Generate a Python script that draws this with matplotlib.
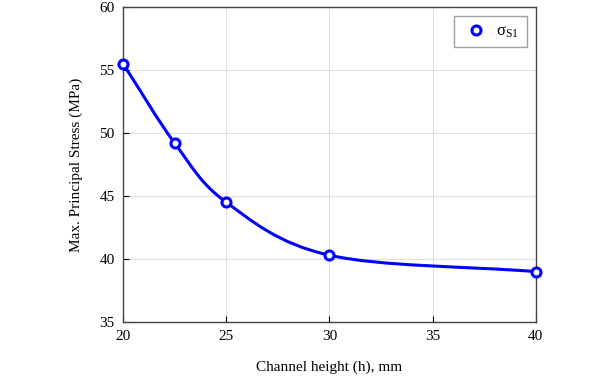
import numpy as np
import matplotlib
matplotlib.use("Agg")
import matplotlib.pyplot as plt
from matplotlib.path import Path
from matplotlib.patches import PathPatch
from matplotlib.lines import Line2D

plt.rcParams['font.family'] = 'Liberation Serif'
plt.rcParams['mathtext.fontset'] = 'custom'
plt.rcParams['mathtext.rm'] = 'Liberation Serif'
plt.rcParams['mathtext.it'] = 'Liberation Serif:italic'

# data
heights = [20, 22.5, 25, 30, 40]
stress = [55.5, 49.2, 44.5, 40.3, 39.0]


def smooth_path(xs, ys):
    # Catmull-Rom style bezier through the points
    xs = np.asarray(xs, float)
    ys = np.asarray(ys, float)
    n = len(xs)
    verts = [(xs[0], ys[0])]
    codes = [Path.MOVETO]
    # tangents
    mx = np.zeros(n)
    my = np.zeros(n)
    for i in range(n):
        if i == 0:
            j, k = 0, 1
        elif i == n - 1:
            j, k = n - 2, n - 1
        else:
            j, k = i - 1, i + 1
        mx[i] = (xs[k] - xs[j]) / (k - j)
        my[i] = (ys[k] - ys[j]) / (k - j)
    for i in range(n - 1):
        h = 1.0 / 3.0
        c1 = (xs[i] + h * mx[i], ys[i] + h * my[i])
        c2 = (xs[i + 1] - h * mx[i + 1], ys[i + 1] - h * my[i + 1])
        verts += [c1, c2, (xs[i + 1], ys[i + 1])]
        codes += [Path.CURVE4] * 3
    return Path(verts, codes)


fig = plt.figure(figsize=(6, 3.82), dpi=100)
ax = fig.add_axes([0.205, 0.157, 0.688, 0.825])

ax.add_patch(PathPatch(smooth_path(heights, stress), facecolor='none',
                       edgecolor='#0000ff', lw=2.2, zorder=3))
ax.plot(heights, stress, linestyle='none', marker='o', markersize=6.5,
        markerfacecolor='white', markeredgecolor='#0000ff', markeredgewidth=2.2,
        zorder=4, clip_on=False)

ax.set_xlim(20, 40)
ax.set_ylim(35, 60)
ax.set_xticks([20, 25, 30, 35, 40])
ax.set_yticks([35, 40, 45, 50, 55, 60])
ax.grid(True, color='#e0e0e0', lw=0.8)
ax.set_axisbelow(True)
ax.tick_params(direction='in', length=4, width=0.8, labelsize=11, colors='black', pad=6)
for s in ax.spines.values():
    s.set_color('#444444')
    s.set_linewidth(1.0)

ax.set_xlabel('Channel height (h), mm', fontsize=11, labelpad=12)
ax.set_ylabel('Max. Principal Stress (MPa)', fontsize=11, labelpad=12)

h = Line2D([], [], linestyle='none', marker='o', markersize=6.5,
           markerfacecolor='white', markeredgecolor='#0000ff', markeredgewidth=2.2)
leg = ax.legend([h], [r'$\mathrm{\sigma}_{\mathrm{S1}}$'], loc='upper right', fontsize=12,
                fancybox=False, edgecolor='#888888', handlelength=1.8,
                borderpad=0.45, handletextpad=0.3, borderaxespad=0.55)
leg.get_frame().set_linewidth(1.0)

fig.savefig('out.png', dpi=100)
